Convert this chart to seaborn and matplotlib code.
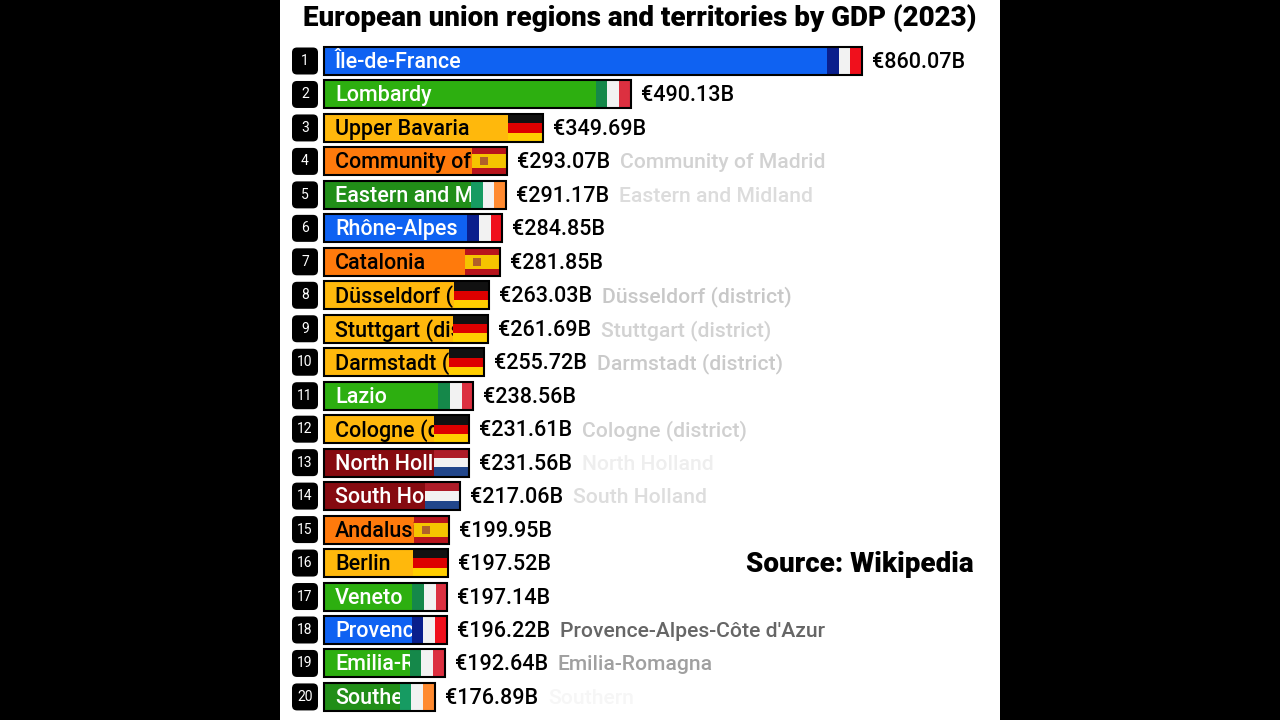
import matplotlib
matplotlib.use("Agg")
import matplotlib.pyplot as plt
import pandas as pd
import seaborn as sns
from matplotlib.patches import FancyBboxPatch, Rectangle

# -------------------- Data --------------------
regions = ["Île-de-France", "Lombardy", "Upper Bavaria", "Community of Madrid", "Eastern and Midland",
           "Rhône-Alpes", "Catalonia", "Düsseldorf (district)", "Stuttgart (district)", "Darmstadt (district)",
           "Lazio", "Cologne (district)", "North Holland", "South Holland", "Andalusia",
           "Berlin", "Veneto", "Provence-Alpes-Côte d'Azur", "Emilia-Romagna", "Southern"]
gdp = [860.07, 490.13, 349.69, 293.07, 291.17, 284.85, 281.85, 263.03, 261.69, 255.72,
       238.56, 231.61, 231.56, 217.06, 199.95, 197.52, 197.14, 196.22, 192.64, 176.89]
countries = ["France", "Italy", "Germany", "Spain", "Ireland", "France", "Spain", "Germany", "Germany", "Germany",
             "Italy", "Germany", "Netherlands", "Netherlands", "Spain", "Germany", "Italy", "France", "Italy", "Ireland"]

# -------------------- Style --------------------
bar_colors = {"France": "#0F62F2", "Italy": "#2DAF10", "Germany": "#FFB80C", "Spain": "#FF7A0C",
              "Ireland": "#218E18", "Netherlands": "#860A10"}
label_colors = {"France": "white", "Italy": "white", "Germany": "black", "Spain": "black",
                "Ireland": "white", "Netherlands": "white"}
vertical_flags = {"France": ["#0A1F8C", "#F2F2F2", "#F0101C"], "Italy": ["#15884A", "#F2F2F2", "#DC3040"],
                  "Ireland": ["#169B62", "#F2F2F2", "#FF8A30"]}
horizontal_flags = {"Germany": ["#111111", "#DD0000", "#FFCE00"], "Netherlands": ["#AE1C28", "#F2F2F2", "#21468B"],
                    "Spain": ["#B8141C", "#F5C400", "#B8141C"]}
ghost_greys = {"Community of Madrid": "#D2D2D2", "Eastern and Midland": "#DCDCDC", "Düsseldorf (district)": "#C8C8C8",
               "Stuttgart (district)": "#D2D2D2", "Darmstadt (district)": "#CACACA", "Cologne (district)": "#D0D0D0",
               "North Holland": "#EEEEEE", "South Holland": "#DDDDDD", "Provence-Alpes-Côte d'Azur": "#666666",
               "Emilia-Romagna": "#A0A0A0", "Southern": "#F6F6F6"}

sns.set_theme(style="white")
plt.rcParams["font.family"] = ["Roboto", "DejaVu Sans"]

df = pd.DataFrame({"region": regions, "gdp": gdp, "country": countries})

# -------------------- Layout (px based scales) --------------------
fig = plt.figure(figsize=(12.8, 7.2), dpi=100, facecolor="black")
ax = fig.add_axes([280 / 1280, 0, 720 / 1280, 1], facecolor="white")

px_x = 538 / 860.07   # pixels per GDP unit
px_y = 33.47          # pixels per row
bar_h = 28 / px_y
flag_w = 35 / px_x
text_dy = 1.5 / px_y  # text sits a little low in the rows

sns.barplot(data=df, x="gdp", y="region", hue="country", palette=bar_colors, dodge=False, saturation=1,
            orient="h", width=bar_h, legend=False, ax=ax, linewidth=0, zorder=1)
ax.set_xlim((280 - 324) / px_x, (1000 - 324) / px_x)
ax.set_ylim((720 - 61) / px_y, -61 / px_y)
ax.set_xlabel("")
ax.set_ylabel("")
ax.set_xticks([])
ax.set_yticks([])
sns.despine(ax=ax, left=True, bottom=True)

# -------------------- Title and source --------------------
ax.text(0.5, 1 - 18 / 720, "European union regions and territories by GDP (2023)", transform=ax.transAxes,
        ha="center", va="center", fontsize=20, fontweight="black", color="black")
ax.text((860 - 324) / px_x, (564 - 61) / px_y, "Source: Wikipedia", ha="center", va="center",
        fontsize=20, fontweight="black", color="black")

# -------------------- Rows --------------------
renderer = fig.canvas.get_renderer()
for i, (name, value, country) in enumerate(zip(regions, gdp, countries)):
    # rank badge
    ax.add_patch(FancyBboxPatch(((292 - 324) / px_x, i - 13.5 / px_y), 26 / px_x, 27 / px_y,
                                boxstyle=f"round,pad=0,rounding_size={5 / px_x}",
                                mutation_aspect=px_x / px_y, fc="black", ec="none", zorder=3))
    ax.text((305 - 324) / px_x, i, str(i + 1), ha="center", va="center", color="white", fontsize=10, zorder=4)

    # region label, cut off where the flag starts
    flag_left = value - flag_w
    label = ax.text(11 / px_x, i + text_dy, name, ha="left", va="center", color=label_colors[country],
                    fontsize=15.5, fontweight="medium", zorder=2)
    limit = ax.transData.transform((flag_left, i))[0]
    shown = name
    while len(shown) > 1:
        label.set_text(shown[:-1])
        if label.get_window_extent(renderer).x1 < limit:
            break
        shown = shown[:-1]
    label.set_text(shown)
    label.set_clip_on(True)
    label.set_clip_path(Rectangle((0, i - bar_h / 2), flag_left, bar_h, transform=ax.transData))

    # flag
    if country in vertical_flags:
        for k, c in enumerate(vertical_flags[country]):
            ax.barh(i, flag_w / 3, left=flag_left + k * flag_w / 3, height=bar_h, color=c, linewidth=0, zorder=3)
    else:
        weights = [0.25, 0.5, 0.25] if country == "Spain" else [1 / 3, 1 / 3, 1 / 3]
        top = i - bar_h / 2
        for w, c in zip(weights, horizontal_flags[country]):
            ax.barh(top + w * bar_h / 2, flag_w, left=flag_left, height=w * bar_h, color=c, linewidth=0, zorder=3)
            top += w * bar_h
        if country == "Spain":
            ax.scatter(flag_left + flag_w * 0.33, i, s=28, marker="s", color="#B0602A", zorder=3.5, linewidths=0)

    # bar outline
    ax.barh(i, value, height=bar_h, fill=False, edgecolor="black", linewidth=1.5, zorder=4)

    # value and fading full name
    val = ax.text(value + 10 / px_x, i + text_dy, f"€{value:.2f}B", ha="left", va="center", color="black",
                  fontsize=15.5, fontweight="medium", zorder=4)
    if name in ghost_greys:
        end = val.get_window_extent(renderer).x1
        x_ghost = ax.transData.inverted().transform((end + 10, 0))[0]
        ax.text(x_ghost, i + text_dy, name, ha="left", va="center", color=ghost_greys[name],
                fontsize=15.2, fontweight="medium", zorder=4)

fig.savefig("out.png", dpi=100, facecolor=fig.get_facecolor())
plt.close()
